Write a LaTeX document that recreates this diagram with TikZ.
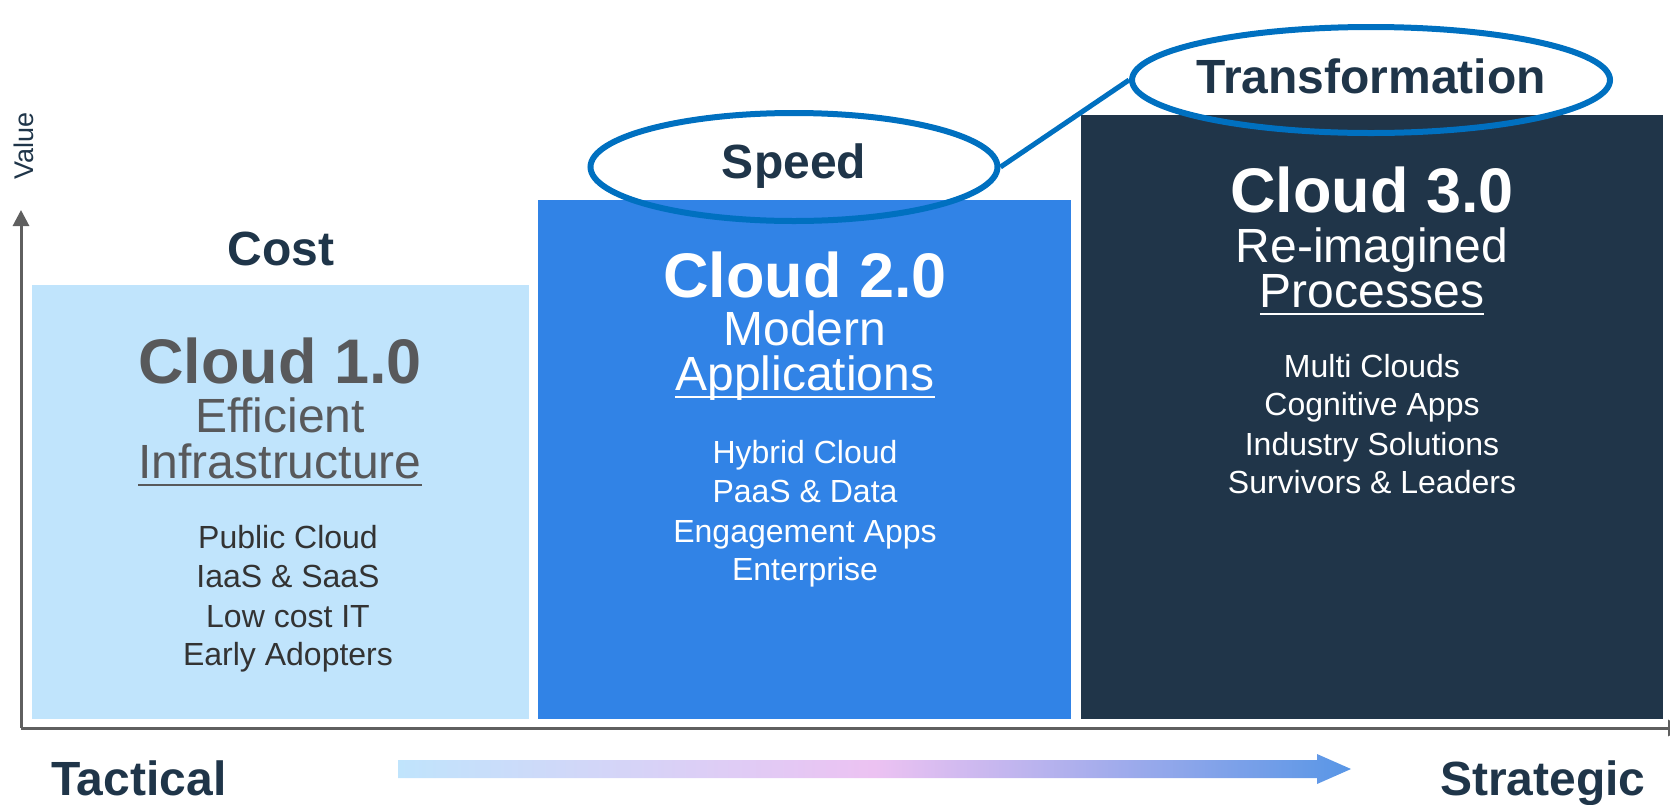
\documentclass[tikz,border=0pt]{standalone}
\usepackage{fontspec}
\setmainfont{Liberation Sans}
\usetikzlibrary{arrows.meta,shapes.geometric}
\newcommand\fsz[1]{\fontsize{#1}{#1}\selectfont}
\definecolor{boxA}{RGB}{192,228,252}
\definecolor{boxB}{RGB}{49,131,230}
\definecolor{boxC}{RGB}{32,53,73}
\definecolor{ringblue}{RGB}{0,112,192}
\definecolor{navy}{RGB}{31,53,73}
\definecolor{grayT}{RGB}{88,89,91}
\definecolor{grayL}{RGB}{51,51,51}
\definecolor{axisgray}{RGB}{95,95,95}
\definecolor{gradL}{RGB}{192,228,252}
\definecolor{gradM}{RGB}{236,194,242}
\definecolor{gradR}{RGB}{88,150,230}
\tikzset{
  lbl/.style={font=\bfseries\fsz{48}, text=navy, inner sep=0pt, anchor=base},
  ttl/.style={font=\bfseries\fsz{63}, inner sep=0pt, anchor=base},
  sub/.style={font=\fsz{48}, inner sep=0pt, anchor=base},
  itm/.style={font=\fsz{32}, inner sep=0pt, anchor=base},
  ring/.style={ellipse, draw=ringblue, line width=6pt, inner sep=0pt},
  axisline/.style={draw=axisgray, line width=3pt},
  uline/.style={line width=2.5pt},
}
\begin{document}
\begin{tikzpicture}[x=1pt,y=-1pt]
\useasboundingbox (0,0) rectangle (1670,804);
% boxes
\fill[boxA] (32,285) rectangle (529,719);
\fill[boxB] (538,200) rectangle (1071,719);
\fill[boxC] (1081,115) rectangle (1663,719);
% axes
\coordinate (o) at (21,728);
\coordinate (yt) at (21,210);
\coordinate (xt) at (1684,728);
\draw[axisline, -{Triangle[width=16pt,length=16pt]}] (o) -- (yt);
\draw[axisline, -{Triangle[width=16pt,length=16pt]}] (o) -- (xt);
\node[font=\fsz{27}, text=navy, inner sep=0pt, anchor=base, rotate=90] (val) at (33,146) {Value};
% box 1
\node[lbl] (cost) at (281,265) {Cost};
\node[ttl, text=grayT] (c1) at (280,383) {Cloud 1.0};
\node[sub, text=grayT] (c1a) at (280,432) {Efficient};
\node[sub, text=grayT] (c1b) at (280,478) {Infrastructure};
\draw[uline, grayT] ([yshift=-7pt]c1b.base west) -- ([yshift=-7pt]c1b.base east);
\node[itm, text=grayL] (c1i1) at (288,548) {Public Cloud};
\node[itm, text=grayL] (c1i2) at (288,587) {IaaS \& SaaS};
\node[itm, text=grayL] (c1i3) at (288,627) {Low cost IT};
\node[itm, text=grayL] (c1i4) at (288,665) {Early Adopters};
% box 2
\node[ttl, text=white] (c2) at (805,297) {Cloud 2.0};
\node[sub, text=white] (c2a) at (805,345) {Modern};
\node[sub, text=white] (c2b) at (805,390) {Applications};
\draw[uline, white] ([yshift=-7pt]c2b.base west) -- ([yshift=-7pt]c2b.base east);
\node[itm, text=white] (c2i1) at (805,463) {Hybrid Cloud};
\node[itm, text=white] (c2i2) at (805,502) {PaaS \& Data};
\node[itm, text=white] (c2i3) at (805,542) {Engagement Apps};
\node[itm, text=white] (c2i4) at (805,580) {Enterprise};
% box 3
\node[ttl, text=white] (c3) at (1372,212) {Cloud 3.0};
\node[sub, text=white] (c3a) at (1372,262) {Re-imagined};
\node[sub, text=white] (c3b) at (1372,307) {Processes};
\draw[uline, white] ([yshift=-7pt]c3b.base west) -- ([yshift=-7pt]c3b.base east);
\node[itm, text=white] (c3i1) at (1372,377) {Multi Clouds};
\node[itm, text=white] (c3i2) at (1372,415) {Cognitive Apps};
\node[itm, text=white] (c3i3) at (1372,455) {Industry Solutions};
\node[itm, text=white] (c3i4) at (1372,493) {Survivors \& Leaders};
% ellipses
\node[ring, minimum width=407pt, minimum height=108pt] (speedE) at (794,167) {};
\node[ring, minimum width=478pt, minimum height=106pt] (transE) at (1371,80) {};
\node[lbl] (speed) at (794,178) {Speed};
\node[lbl] (trans) at (1371,93) {Transformation};
\draw[draw=ringblue, line width=5pt] (speedE.east) -- (transE.west);
% bottom labels
\node[lbl, anchor=base west] (tac) at (51,795) {Tactical};
\node[lbl, anchor=base west] (str) at (1440,795) {Strategic};
\shade[left color=gradL, right color=gradR, middle color=gradM]
  (398,760) -- (1317,760) -- (1317,754) -- (1351,769) -- (1317,784) -- (1317,778) -- (398,778) -- cycle;
\end{tikzpicture}
\end{document}
